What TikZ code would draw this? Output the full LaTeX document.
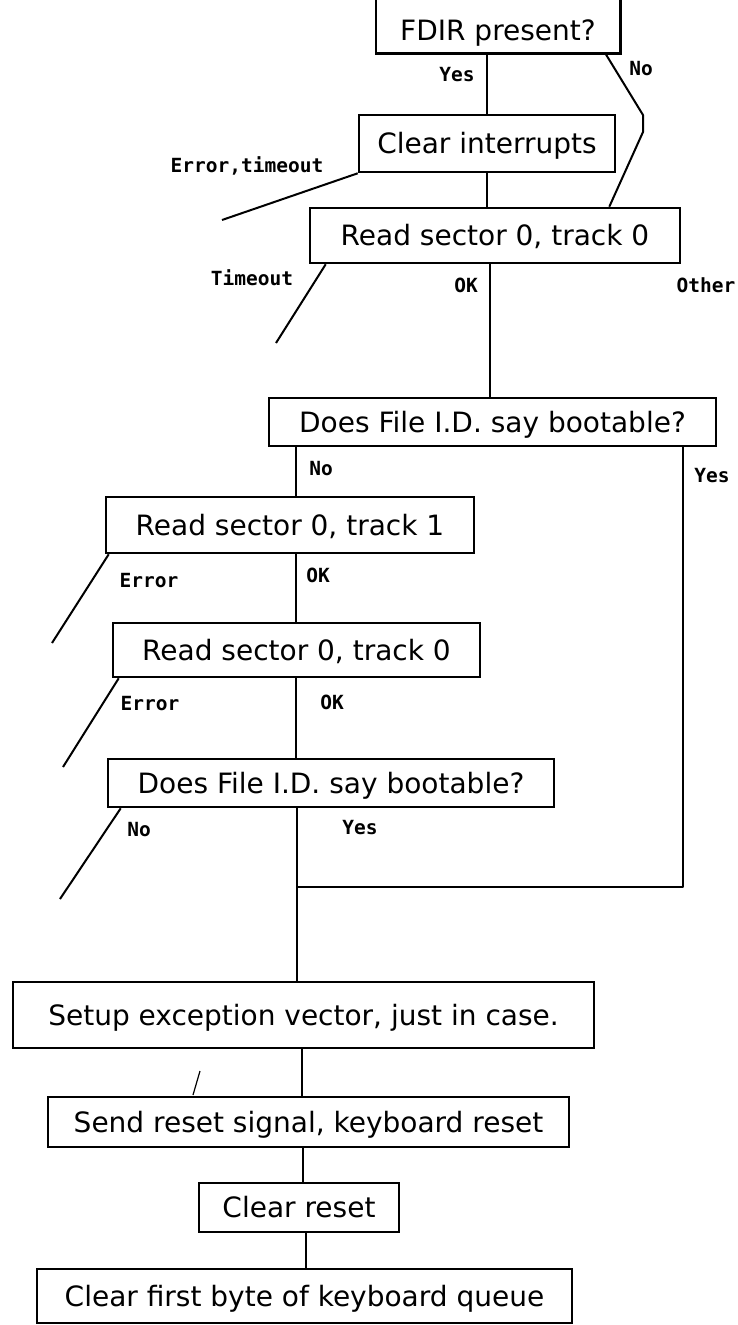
\documentclass[tikz,border=0pt]{standalone}
\usepackage{fontspec}
\setmainfont{DejaVu Sans}
\newfontfamily\labelfont{DejaVu Sans Mono}
\newcommand\boxfont{\fontsize{28}{32}\selectfont}
\newcommand\tagfont{\labelfont\bfseries\fontsize{19.5}{22}\selectfont}
\begin{document}
\begin{tikzpicture}[x=1pt,y=-1pt,
  box/.style={draw, line width=2.6pt, inner sep=0pt, font=\boxfont,
              text height=20.4pt, text depth=0pt},
  boxline/.style={line width=2.6pt, line join=miter, line cap=butt},
  conn/.style={line width=2pt, line join=round},
  tag/.style={inner sep=0pt, font=\tagfont, text height=14pt, text depth=0pt}]
\path[use as bounding box, fill=white] (0,0) rectangle (737,1325);
\coordinate (pagetop) at (0,0);

% process and decision boxes
\node[font=\boxfont, inner sep=0pt, text height=20.4pt, text depth=0pt,
      minimum width=244pt, minimum height=46pt] (fdir) at (498,30) {FDIR present?};
\draw[boxline] (fdir.south west |- pagetop) -- (fdir.south west)
               -- (fdir.south east) -- (fdir.south east |- pagetop);
\node[box, minimum width=256pt, minimum height=57pt] (clr)    at (487,143.5) {Clear interrupts};
\node[box, minimum width=370pt, minimum height=55pt] (rd0)    at (495,235.5) {Read sector 0, track 0};
\node[box, minimum width=447pt, minimum height=48pt] (boot1)  at (492.5,422) {Does File I.D. say bootable?};
\node[box, minimum width=368pt, minimum height=56pt] (rd1)    at (290,525)   {Read sector 0, track 1};
\node[box, minimum width=367pt, minimum height=54pt] (rd0b)   at (296.5,650) {Read sector 0, track 0};
\node[box, minimum width=446pt, minimum height=48pt] (boot2)  at (331,783)   {Does File I.D. say bootable?};
\node[box, minimum width=581pt, minimum height=66pt] (setup)  at (303.5,1015) {Setup exception vector, just in case.};
\node[box, minimum width=521pt, minimum height=50pt] (send)   at (308.5,1122) {Send reset signal, keyboard reset};
\node[box, minimum width=200pt, minimum height=49pt] (clrrst) at (299,1207.5) {Clear reset};
\node[box, minimum width=535pt, minimum height=54pt] (clrq)   at (304.5,1296) {Clear first byte of keyboard queue};

% trunk positions
\coordinate (okx)  at (490,0);
\coordinate (lft)  at (296,0);
\coordinate (yesx) at (683,0);
\coordinate (join) at (297,887);
\coordinate (nb1)  at (643,115);
\coordinate (nb2)  at (643,132);

% main flow
\draw[conn] (clr.north |- fdir.south) -- (clr.north);
\draw[conn] (clr.south) -- (clr.south |- rd0.north);
\draw[conn] (rd0.south -| okx) -- (boot1.north -| okx);
\draw[conn] (boot1.south -| lft) -- (rd1.north -| lft);
\draw[conn] (rd1.south -| lft) -- (rd0b.north -| lft);
\draw[conn] (rd0b.south -| lft) -- (boot2.north -| lft);
\draw[conn] (boot2.south -| join) -- (setup.north -| join);
\draw[conn] (boot1.south -| yesx) |- (join);
\draw[conn] ([xshift=-1.5pt]setup.south) -- ([xshift=-1.5pt]setup.south |- send.north);
\draw[conn] ([xshift=-5.5pt]send.south) -- ([xshift=-5.5pt]send.south |- clrrst.north);
\draw[conn] ([xshift=7pt]clrrst.south) -- ([xshift=7pt]clrrst.south |- clrq.north);

% "No" path around Clear interrupts
\draw[conn] ([xshift=-15pt]fdir.south east) -- (nb1) -- (nb2) -- ([xshift=-72pt]rd0.north east);

% error exits
\coordinate (e0) at (222,220);
\coordinate (e1) at (276,343);
\coordinate (e2) at (52,643);
\coordinate (e3) at (63,767);
\coordinate (e4) at (60,899);
\draw[conn] (clr.south west) -- (e0);
\draw[conn] ([xshift=17pt]rd0.south west) -- (e1);
\draw[conn] ([xshift=4pt]rd1.south west) -- (e2);
\draw[conn] ([xshift=7pt]rd0b.south west) -- (e3);
\draw[conn] ([xshift=14pt]boot2.south west) -- (e4);

% small tick mark
\coordinate (m1) at (193,1095);
\coordinate (m2) at (200,1071);
\draw[line width=1.2pt] (m1) -- (m2);

% branch labels
\node[tag] (l1)  at (457,74)  {Yes};
\node[tag] (l2)  at (641,68)  {No};
\node[tag] (l3)  at (247,165) {Error,timeout};
\node[tag] (l4)  at (252,278) {Timeout};
\node[tag] (l5)  at (466,285) {OK};
\node[tag] (l6)  at (706,285) {Other};
\node[tag] (l7)  at (321,468) {No};
\node[tag] (l8)  at (712,475) {Yes};
\node[tag] (l9)  at (149,580) {Error};
\node[tag] (l10) at (318,575) {OK};
\node[tag] (l11) at (150,703) {Error};
\node[tag] (l12) at (332,702) {OK};
\node[tag] (l13) at (139,829) {No};
\node[tag] (l14) at (360,827) {Yes};
\end{tikzpicture}
\end{document}
